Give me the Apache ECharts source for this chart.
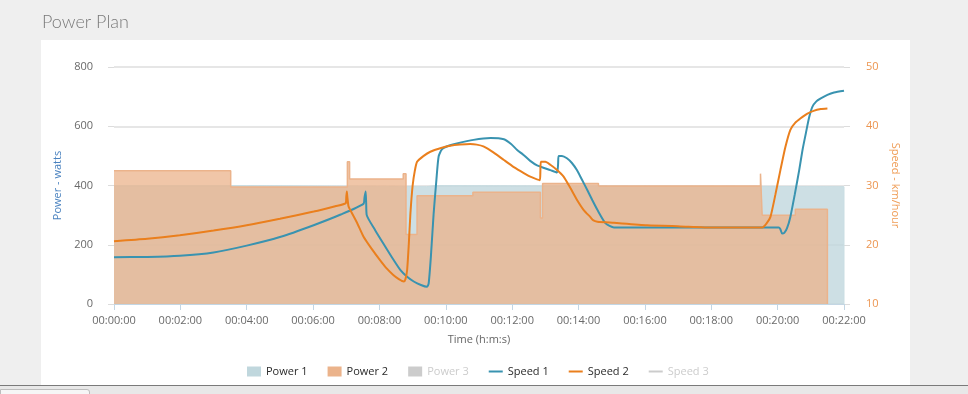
<!DOCTYPE html>
<html>
<head>
<meta charset="utf-8">
<script src="https://cdn.jsdelivr.net/npm/echarts@6/dist/echarts.min.js"></script>
<style>
  html, body { margin: 0; padding: 0; width: 968px; height: 394px; overflow: hidden; background: #efefef; }
  #panel { position: absolute; left: 41px; top: 40px; width: 869px; height: 345px; background: #ffffff; }
  #bar { position: absolute; left: 0; top: 385px; width: 968px; height: 9px; background: #e8e8e8; border-top: 1px solid #7a7a7a; box-sizing: border-box; }
  #tab { position: absolute; left: 0; top: 389px; width: 90px; height: 10px; background: #f6f6f6; border: 1px solid #bdbdbd; border-radius: 0 3px 0 0; box-sizing: border-box; }
  #chart { position: absolute; left: 0; top: 0; width: 968px; height: 394px; }
</style>
</head>
<body>
<div id="panel"></div>
<div id="bar"></div>
<div id="tab"></div>
<div id="chart"></div>
<script>
// ---- data (time in seconds) ----
const seriesNames = ['Power 1', 'Power 2', 'Power 3', 'Speed 1', 'Speed 2', 'Speed 3'];

// stepped power plans: [time s, watts], value holds until next point
const power1 = [[0,400],[240,396],[565,400],[582,396],[1320,0]];
const power2 = [[0,450],[211,395],[422,480],[426,422],[523,440],[528,235],[548,365],[649,377],[771,290],[775,407],[876,398],[1169,440],[1172,300],[1232,320],[1290,0]];
const power3 = [];

// speeds: [time s, km/h]
const speed1 = [[0,17.9],[60,17.95],[119,18.15],[180,18.7],[240,19.85],[300,21.3],[361,23.3],[410,25.1],[451,26.9],[453,28.0],[455,29.0],[456,27.0],[457,25.0],[472,22.5],[487,20.2],[503,17.8],[518,15.7],[530,14.6],[542,13.8],[555,13.2],[566,12.9],[569,13.5],[573,18.0],[578,25.3],[583,31.0],[587,34.9],[593,36.1],[605,36.7],[620,37.1],[650,37.7],[681,38.0],[705,37.8],[718,37.0],[729,36.0],[740,35.2],[752,34.2],[765,33.4],[789,32.6],[801,32.2],[803,33.6],[804,35.0],[810,35.0],[819,34.6],[828,33.8],[837,32.6],[846,31.0],[856,29.2],[865,27.5],[874,25.9],[889,23.6],[904,22.9],[934,22.9],[1000,22.9],[1100,22.9],[1202,22.9],[1205,22.6],[1208,21.9],[1212,22.0],[1217,22.8],[1223,24.7],[1231,28.5],[1239,32.6],[1245,36.0],[1251,38.8],[1257,41.5],[1263,43.3],[1270,44.2],[1278,44.7],[1290,45.3],[1302,45.7],[1320,46.0]];
const speed2 = [[0,20.6],[60,21.0],[119,21.6],[180,22.4],[240,23.3],[300,24.4],[361,25.6],[400,26.5],[419,27.0],[420,28.0],[421,29.0],[422,28.0],[424,26.5],[427,25.9],[439,23.8],[451,21.4],[466,19.3],[481,17.4],[493,16.0],[505,14.9],[515,14.2],[524,13.8],[527,14.2],[530,15.7],[533,20.0],[536,25.3],[540,30.0],[544,32.5],[548,34.0],[560,35.0],[572,35.7],[590,36.3],[608,36.7],[626,36.9],[644,37.0],[656,36.9],[668,36.6],[686,35.6],[705,34.3],[723,33.1],[741,32.1],[755,31.4],[770,30.9],[771,32.5],[772,34.0],[780,34.0],[789,33.5],[800,32.7],[813,31.5],[825,29.6],[837,27.6],[849,25.9],[861,24.7],[867,24.1],[874,23.9],[904,23.7],[964,23.3],[1024,23.1],[1084,22.9],[1140,22.9],[1172,22.9],[1180,23.6],[1187,24.7],[1196,28.5],[1205,32.6],[1214,36.5],[1223,39.4],[1232,40.6],[1241,41.3],[1253,42.1],[1265,42.6],[1278,42.9],[1290,43.0]];
const speed3 = [];

// axes
const timeMin = 0, timeMax = 1320, timeStep = 120;
const powerMin = 0, powerMax = 800, powerStep = 200;
const speedMin = 10, speedMax = 50, speedStep = 10;

function fmtTime(v) {
  const h = Math.floor(v / 3600), m = Math.floor((v % 3600) / 60), s = Math.floor(v % 60);
  const p = n => (n < 10 ? '0' : '') + n;
  return p(h) + ':' + p(m) + ':' + p(s);
}

const FONT = 'Open Sans';
const chart = echarts.init(document.getElementById('chart'), null, { renderer: 'canvas' });

const rectIcon = 'rect';
const lineIcon = 'path://M0,0L14,0L14,2L0,2Z';

chart.setOption({
  animation: false,
  backgroundColor: 'transparent',
  title: {
    text: 'Power Plan',
    left: 37, top: 8,
    textStyle: { fontFamily: 'Lato', fontWeight: 300, fontSize: 18, color: '#7a7a7a' }
  },
  legend: {
    left: 242, top: 361,
    itemWidth: 14, itemHeight: 10, itemGap: 20,
    textStyle: { fontFamily: FONT, fontSize: 11, color: '#2a2a2a' },
    inactiveColor: '#cccccc',
    selected: { 'Power 3': false, 'Speed 3': false },
    data: [
      { name: seriesNames[0], icon: rectIcon },
      { name: seriesNames[1], icon: rectIcon },
      { name: seriesNames[2], icon: rectIcon },
      { name: seriesNames[3], icon: lineIcon },
      { name: seriesNames[4], icon: lineIcon },
      { name: seriesNames[5], icon: lineIcon }
    ]
  },
  grid: { left: 114, right: 124, top: 67, bottom: 90, containLabel: false },
  xAxis: {
    type: 'value', min: timeMin, max: timeMax, interval: timeStep,
    name: 'Time (h:m:s)', nameLocation: 'middle', nameGap: 30,
    nameTextStyle: { fontFamily: FONT, fontSize: 11, color: '#666' },
    axisLine: { show: true, lineStyle: { color: '#c3d6e4', width: 1 } },
    axisTick: { show: true, length: 6, lineStyle: { color: '#c3d6e4' } },
    axisLabel: { formatter: fmtTime, fontFamily: FONT, fontSize: 11, color: '#6a6a6a', margin: 11 },
    splitLine: { show: false }
  },
  yAxis: [
    {
      type: 'value', min: powerMin, max: powerMax, interval: powerStep,
      name: 'Power - watts', nameLocation: 'middle', nameGap: 37, nameRotate: 90,
      nameTextStyle: { fontFamily: FONT, fontSize: 11, color: '#4a82bf' },
      axisLine: { show: false },
      axisTick: { show: true, length: 6, lineStyle: { color: '#dcdcdc' } },
      axisLabel: { fontFamily: FONT, fontSize: 11, color: '#6a6a6a', margin: 21 },
      splitLine: { show: true, lineStyle: { color: '#dedede', width: 1.5 } }
    },
    {
      type: 'value', min: speedMin, max: speedMax, interval: speedStep, position: 'right',
      name: 'Speed - km/hour', nameLocation: 'middle', nameGap: 30, nameRotate: -90,
      nameTextStyle: { fontFamily: FONT, fontSize: 11, color: '#ef9c55' },
      axisLine: { show: false },
      axisTick: { show: true, length: 6, lineStyle: { color: '#dcdcdc' } },
      axisLabel: { fontFamily: FONT, fontSize: 11, color: '#ec9550', margin: 22 },
      splitLine: { show: false }
    }
  ],
  series: [
    {
      name: seriesNames[0], type: 'line', yAxisIndex: 0, step: 'end', data: power1,
      showSymbol: false, symbol: 'none', color: '#c0d7dd',
      lineStyle: { color: '#c9dde2', width: 1 },
      areaStyle: { color: '#c0d7dd', opacity: 0.8 }, z: 1
    },
    {
      name: seriesNames[1], type: 'line', yAxisIndex: 0, step: 'end', data: power2,
      showSymbol: false, symbol: 'none', color: '#ebb38b',
      lineStyle: { color: '#ebb38b', width: 1.5 },
      areaStyle: { color: '#ebb38b', opacity: 0.75 }, z: 2
    },
    {
      name: seriesNames[2], type: 'line', yAxisIndex: 0, step: 'end', data: power3,
      showSymbol: false, symbol: 'none', color: '#bdbdbd',
      areaStyle: { color: '#bdbdbd', opacity: 0.75 }, z: 2
    },
    {
      name: seriesNames[3], type: 'line', yAxisIndex: 1, data: speed1,
      showSymbol: false, symbol: 'none', smooth: 0.2, color: '#3993b0',
      lineStyle: { color: '#3993b0', width: 2 }, z: 5
    },
    {
      name: seriesNames[4], type: 'line', yAxisIndex: 1, data: speed2,
      showSymbol: false, symbol: 'none', smooth: 0.2, color: '#ea7f1d',
      lineStyle: { color: '#ea7f1d', width: 2 }, z: 6
    },
    {
      name: seriesNames[5], type: 'line', yAxisIndex: 1, data: speed3,
      showSymbol: false, symbol: 'none', color: '#bdbdbd',
      lineStyle: { color: '#bdbdbd', width: 2 }, z: 5
    }
  ]
});
</script>
</body>
</html>
